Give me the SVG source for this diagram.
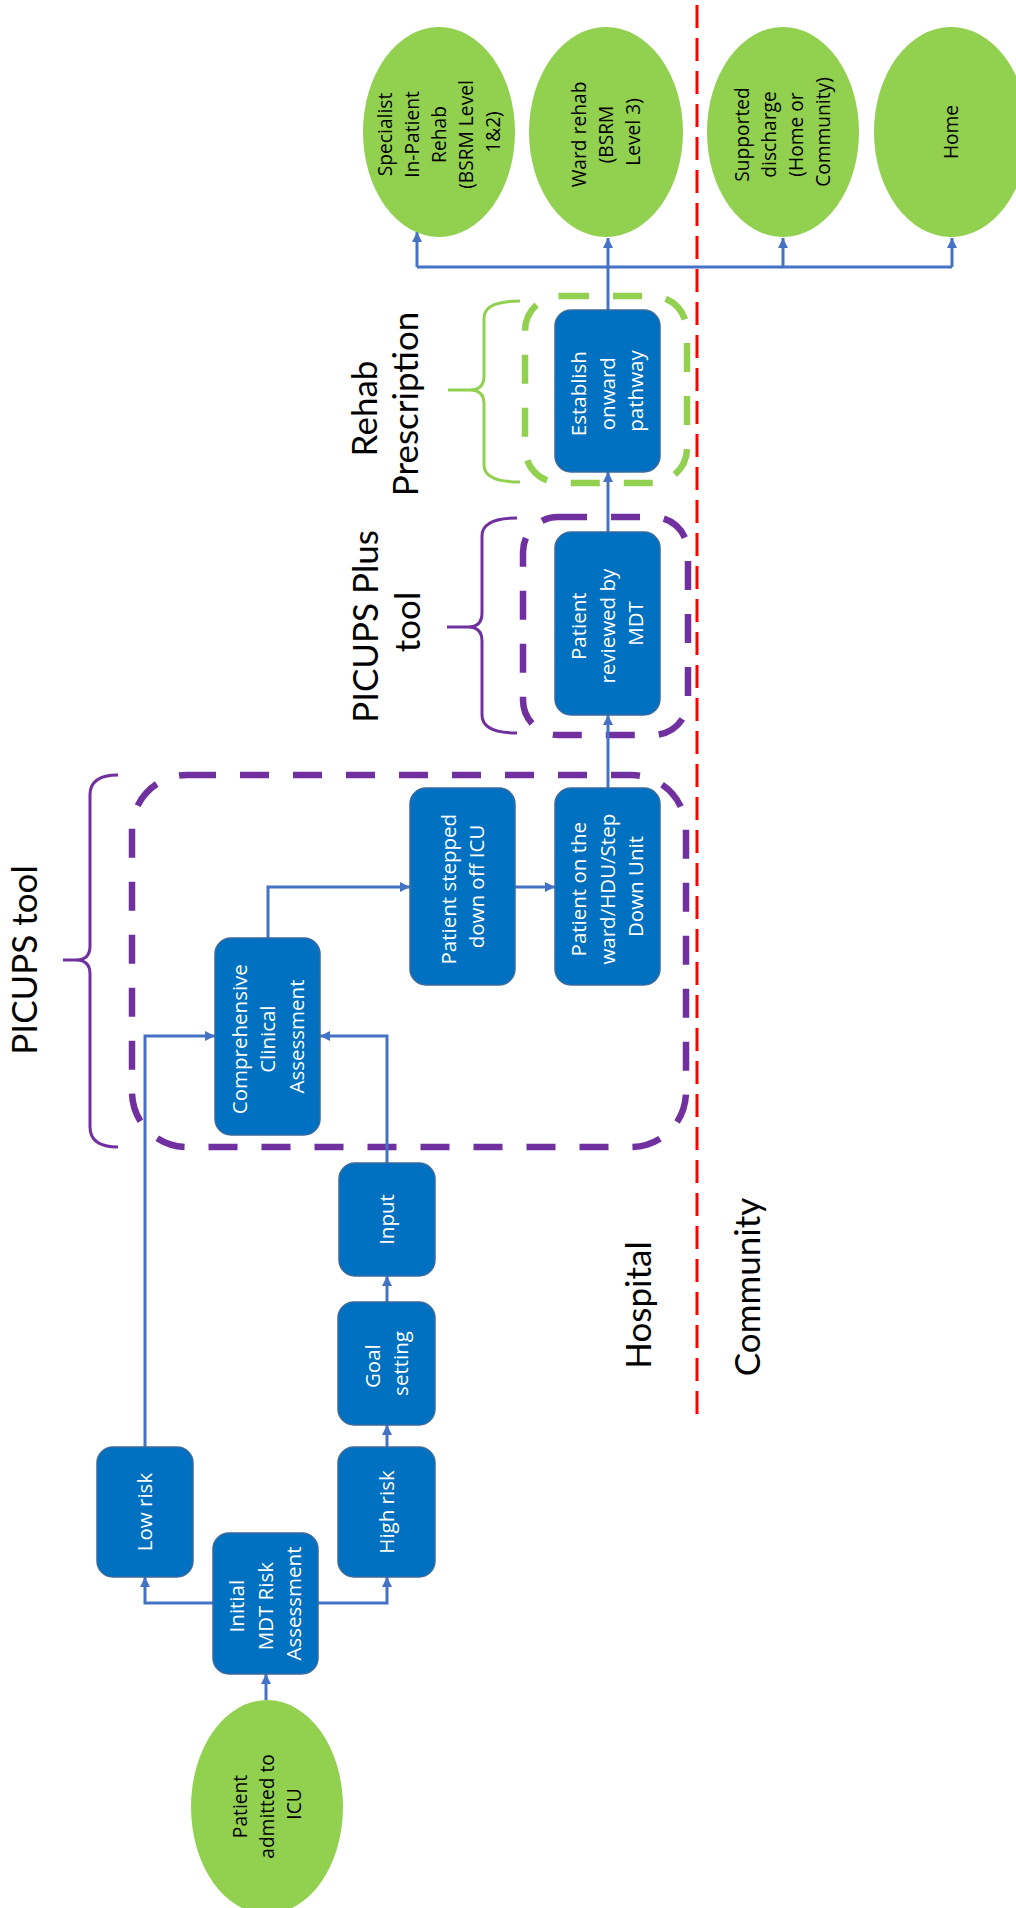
<svg xmlns="http://www.w3.org/2000/svg" width="1016" height="1908" viewBox="0 0 1016 1908">
  <style>
    .box { fill: #0070C0; stroke: #3A6A9E; stroke-width: 1.5; }
    .oval { fill: #92D050; }
    .btxt { font-family: "Open Sans", "Noto Sans", sans-serif; font-size: 20.5px; fill: #FFFFFF; text-anchor: middle; }
    .otxt { font-family: "Open Sans", "Noto Sans", sans-serif; font-size: 19.2px; fill: #000000; text-anchor: middle; }
    .label { font-family: Lato, "Liberation Sans", sans-serif; font-size: 35px; fill: #000000; text-anchor: middle; }
    .conn { fill: none; stroke: #4472C4; stroke-width: 3; }
    .zone-purple { fill: none; stroke: #7030A0; stroke-width: 6.5; stroke-dasharray: 29 24; }
    .zone-green { fill: none; stroke: #92D050; stroke-width: 6.5; stroke-dasharray: 29 24; }
    .brace-purple { fill: none; stroke: #7030A0; stroke-width: 3; }
    .brace-green { fill: none; stroke: #92D050; stroke-width: 3; }
    .divider { fill: none; stroke: #FF0000; stroke-width: 3; stroke-dasharray: 23 10; }
  </style>
  <defs>
    <marker id="arrow" markerUnits="userSpaceOnUse" markerWidth="11" markerHeight="11" refX="10" refY="5" orient="auto">
      <path d="M0,0 L10,5 L0,10 z" fill="#4472C4"/>
    </marker>
  </defs>

  <rect width="1016" height="1908" fill="#FFFFFF"/>

  <!-- hospital / community divider -->
  <line class="divider" x1="697" y1="5" x2="697" y2="1420"/>

  <!-- tool zones -->
  <g id="zone-picups">
    <rect class="zone-purple" x="132" y="775" width="554" height="372" rx="55" ry="55"/>
    <path class="brace-purple" d="M118,775 Q90,775 90,795 L90,946 Q90,960 76,960 L63,960 M76,960 Q90,960 90,974 L90,1127 Q90,1147 118,1147"/>
    <text class="label" transform="translate(37,960) rotate(-90)" x="0" y="0">PICUPS tool</text>
  </g>
  <g id="zone-picups-plus">
    <rect class="zone-purple" x="523" y="517" width="165" height="218" rx="35" ry="35"/>
    <path class="brace-purple" d="M517,518 Q482,518 482,536 L482,613 Q482,627 468,627 L447,627 M468,627 Q482,627 482,641 L482,715 Q482,733 517,733"/>
    <text class="label" transform="translate(0,622) rotate(-90)">
      <tspan x="0" y="378">PICUPS Plus</tspan>
      <tspan x="0" y="420">tool</tspan>
    </text>
  </g>
  <g id="zone-rehab-prescription">
    <rect class="zone-green" x="525" y="296" width="162" height="187" rx="35" ry="35"/>
    <path class="brace-green" d="M520,301 Q484,301 484,318 L484,376 Q484,390 470,390 L448,390 M470,390 Q484,390 484,404 L484,465 Q484,482 520,482"/>
    <text class="label" transform="translate(0,404) rotate(-90)">
      <tspan x="0" y="377">Rehab</tspan>
      <tspan x="0" y="418">Prescription</tspan>
    </text>
  </g>

  <!-- setting labels -->
  <text id="label-hospital" class="label" transform="translate(651,1305) rotate(-90)" x="0" y="0">Hospital</text>
  <text id="label-community" class="label" transform="translate(760,1287) rotate(-90)" x="0" y="0">Community</text>

  <!-- connectors -->
  <g id="connectors">
    <path class="conn" d="M266,1700 L266,1674" marker-end="url(#arrow)"/>
    <path class="conn" d="M213,1603 L145,1603 L145,1577" marker-end="url(#arrow)"/>
    <path class="conn" d="M318,1603 L387,1603 L387,1577" marker-end="url(#arrow)"/>
    <path class="conn" d="M387,1447 L387,1425" marker-end="url(#arrow)"/>
    <path class="conn" d="M387,1302 L387,1276" marker-end="url(#arrow)"/>
    <path class="conn" d="M387,1163 L387,1036 L320,1036" marker-end="url(#arrow)"/>
    <path class="conn" d="M145,1447 L145,1036 L215,1036" marker-end="url(#arrow)"/>
    <path class="conn" d="M268,938 L268,887 L410,887" marker-end="url(#arrow)"/>
    <path class="conn" d="M515,887 L555,887" marker-end="url(#arrow)"/>
    <path class="conn" d="M608,788 L608,715" marker-end="url(#arrow)"/>
    <path class="conn" d="M608,532 L608,472" marker-end="url(#arrow)"/>
    <path class="conn" d="M608,310 L608,238" marker-end="url(#arrow)"/>
    <path class="conn" d="M417,267 L952,267"/>
    <path class="conn" d="M417,267 L417,232" marker-end="url(#arrow)"/>
    <path class="conn" d="M783,267 L783,238" marker-end="url(#arrow)"/>
    <path class="conn" d="M952,267 L952,238" marker-end="url(#arrow)"/>
  </g>

  <!-- start -->
  <g id="node-admitted">
    <ellipse class="oval" cx="267" cy="1807" rx="76" ry="107"/>
    <text class="otxt" transform="translate(267,1804) rotate(-90)">
      <tspan x="0" y="-20.1">Patient</tspan>
      <tspan x="0" y="6.9">admitted to</tspan>
      <tspan x="0" y="33.9">ICU</tspan>
    </text>
  </g>

  <!-- process boxes -->
  <g id="node-initial-mdt">
    <rect class="box" x="213" y="1533" width="105" height="141" rx="16"/>
    <text class="btxt" transform="translate(265.5,1603.5) rotate(-90)">
      <tspan x="0" y="-21.2">Initial</tspan>
      <tspan x="0" y="7.3">MDT Risk</tspan>
      <tspan x="0" y="35.8">Assessment</tspan>
    </text>
  </g>
  <g id="node-low-risk">
    <rect class="box" x="97" y="1447" width="96" height="130" rx="16"/>
    <text class="btxt" transform="translate(145,1512) rotate(-90)" x="0" y="7.3">Low risk</text>
  </g>
  <g id="node-high-risk">
    <rect class="box" x="338" y="1447" width="97" height="130" rx="16"/>
    <text class="btxt" transform="translate(386.5,1512) rotate(-90)" x="0" y="7.3">High risk</text>
  </g>
  <g id="node-goal-setting">
    <rect class="box" x="338" y="1302" width="97" height="123" rx="16"/>
    <text class="btxt" transform="translate(386.5,1363.5) rotate(-90)">
      <tspan x="0" y="-6.95">Goal</tspan>
      <tspan x="0" y="21.55">setting</tspan>
    </text>
  </g>
  <g id="node-input">
    <rect class="box" x="339" y="1163" width="96" height="113" rx="16"/>
    <text class="btxt" transform="translate(387,1219.5) rotate(-90)" x="0" y="7.3">Input</text>
  </g>
  <g id="node-clinical-assessment">
    <rect class="box" x="215" y="938" width="105" height="197" rx="16"/>
    <text class="btxt" transform="translate(268,1036.5) rotate(-90)">
      <tspan x="0" y="-21.2">Comprehensive</tspan>
      <tspan x="0" y="7.3">Clinical</tspan>
      <tspan x="0" y="35.8">Assessment</tspan>
    </text>
  </g>
  <g id="node-stepped-down">
    <rect class="box" x="410" y="788" width="105" height="197" rx="16"/>
    <text class="btxt" transform="translate(462.5,886.5) rotate(-90)">
      <tspan x="0" y="-6.95">Patient stepped</tspan>
      <tspan x="0" y="21.55">down off ICU</tspan>
    </text>
  </g>
  <g id="node-on-ward">
    <rect class="box" x="555" y="788" width="105" height="197" rx="16"/>
    <text class="btxt" transform="translate(607.5,886.5) rotate(-90)">
      <tspan x="0" y="-21.2">Patient on the</tspan>
      <tspan x="0" y="7.3">ward/HDU/Step</tspan>
      <tspan x="0" y="35.8">Down Unit</tspan>
    </text>
  </g>
  <g id="node-mdt-review">
    <rect class="box" x="555" y="532" width="105" height="183" rx="16"/>
    <text class="btxt" transform="translate(607.5,623.5) rotate(-90)">
      <tspan x="0" y="-21.2">Patient</tspan>
      <tspan x="0" y="7.3">reviewed by</tspan>
      <tspan x="0" y="35.8">MDT</tspan>
    </text>
  </g>
  <g id="node-onward-pathway">
    <rect class="box" x="555" y="310" width="105" height="162" rx="16"/>
    <text class="btxt" transform="translate(607.5,391) rotate(-90)">
      <tspan x="0" y="-21.2">Establish</tspan>
      <tspan x="0" y="7.3">onward</tspan>
      <tspan x="0" y="35.8">pathway</tspan>
    </text>
  </g>

  <!-- destinations -->
  <g id="node-specialist-rehab">
    <ellipse class="oval" cx="439" cy="132" rx="76" ry="105"/>
    <text class="otxt" transform="translate(439,132) rotate(-90)">
      <tspan x="0" y="-47.1">Specialist</tspan>
      <tspan x="0" y="-20.1">In-Patient</tspan>
      <tspan x="0" y="6.9">Rehab</tspan>
      <tspan x="0" y="33.9">(BSRM Level</tspan>
      <tspan x="0" y="60.9">1&amp;2)</tspan>
    </text>
  </g>
  <g id="node-ward-rehab">
    <ellipse class="oval" cx="606" cy="132" rx="77" ry="105"/>
    <text class="otxt" transform="translate(606,132) rotate(-90)">
      <tspan x="0" y="-20.1">Ward rehab</tspan>
      <tspan x="0" y="6.9">(BSRM</tspan>
      <tspan x="0" y="33.9">Level 3)</tspan>
    </text>
  </g>
  <g id="node-supported-discharge">
    <ellipse class="oval" cx="783" cy="132" rx="76" ry="105"/>
    <text class="otxt" transform="translate(783,132) rotate(-90)">
      <tspan x="0" y="-33.6">Supported</tspan>
      <tspan x="0" y="-6.6">discharge</tspan>
      <tspan x="0" y="20.4">(Home or</tspan>
      <tspan x="0" y="47.4">Community)</tspan>
    </text>
  </g>
  <g id="node-home">
    <ellipse class="oval" cx="951" cy="132" rx="77" ry="105"/>
    <text class="otxt" transform="translate(951,132) rotate(-90)" x="0" y="6.9">Home</text>
  </g>
</svg>
